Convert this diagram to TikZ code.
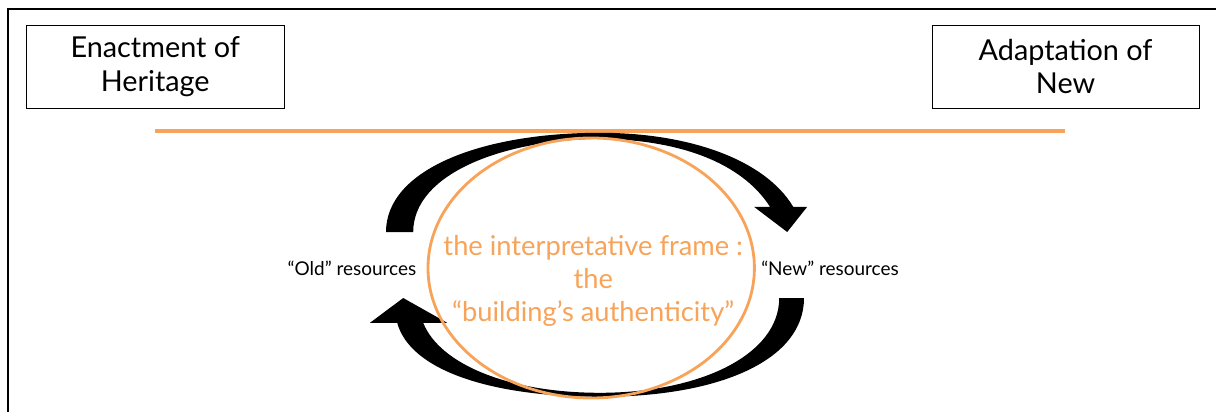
\documentclass[tikz,border=0pt]{standalone}
\usepackage{fontspec}
\setmainfont{Lato}
\definecolor{frameorange}{RGB}{247,163,89}
\tikzset{
	titlebox/.style={draw=black, thin, minimum width=6.45cm, minimum height=2.08cm, align=center, font=\fontsize{20.5}{24}\selectfont},
	framelabel/.style={frameorange, align=center, font=\fontsize{19.4}{23.5}\selectfont},
	reslabel/.style={black, font=\fontsize{13.5}{15}\selectfont}
}
\begin{document}
\begin{tikzpicture}
		\useasboundingbox (0.00,0.00) rectangle (30.40,10.30);
		\draw[draw=black, line width=1.2pt] (0.20,0.00) -- (0.20,10.08) -- (30.40,10.08);
		\node[titlebox] (heritage) at (3.88,8.64) {Enactment of\\Heritage};
		\node[titlebox, minimum width=6.68cm] (adaptation) at (26.64,8.64) {Adaptation of\\New};
		\draw[draw=frameorange, line width=2.5pt] (3.88,7.03) -- (26.63,7.03);
		% upper arrow, old to new
		\fill[black] (9.65,4.50) .. controls (9.65,6.05) and (12.00,6.98) .. (15.00,6.98)
			.. controls (17.25,6.98) and (19.13,6.30) .. (19.83,5.13)
			-- (20.18,5.13) -- (19.68,4.50) -- (18.85,5.13) -- (19.25,5.13)
			.. controls (18.63,6.10) and (17.25,6.80) .. (15.00,6.83)
			.. controls (12.50,6.80) and (10.33,5.93) .. (10.33,4.50) -- cycle;
		% lower arrow, new to old
		\fill[black] (20.10,2.85) .. controls (20.10,1.30) and (18.00,0.38) .. (15.00,0.38)
			.. controls (12.25,0.38) and (10.25,1.05) .. (9.93,2.23)
			-- (9.25,2.23) -- (10.08,2.85) -- (11.18,2.23) -- (10.58,2.23)
			.. controls (11.00,1.18) and (12.75,0.48) .. (15.00,0.48)
			.. controls (17.50,0.48) and (19.48,1.43) .. (19.48,2.85) -- cycle;
		\draw[draw=frameorange, line width=2pt] (14.78,3.60) ellipse (4.08 and 3.25);
		\node[framelabel] (frame) at (14.83,3.28) {the interpretative frame :\\the\\“building’s authenticity”};
		\node[reslabel] (old) at (8.80,3.60) {“Old” resources};
		\node[reslabel] (new) at (20.75,3.60) {“New” resources};
	\end{tikzpicture}
\end{document}
